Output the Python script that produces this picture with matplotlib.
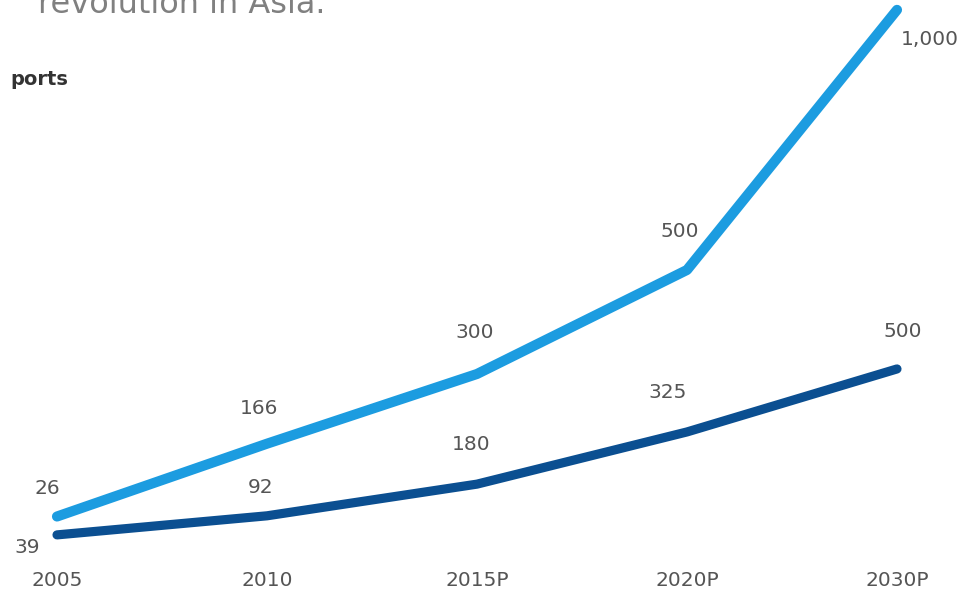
import matplotlib.pyplot as plt

# categories and series
years = ['2005', '2010', '2015P', '2020P', '2030P']
upper_vals = [26, 166, 300, 500, 1000]
lower_vals = [39, 92, 180, 325, 500]
upper_labels = ['26', '166', '300', '500', '1,000']
lower_labels = ['39', '92', '180', '325', '500']

light_blue = '#1c9ce0'
dark_blue = '#0b4f91'
label_grey = '#555555'

W, H = 967, 591
fig = plt.figure(figsize=(W / 100, H / 100), dpi=100)
fig.patch.set_facecolor('white')

# plot area runs from the tick labels up to the top edge
bottom_px = 23
ax = fig.add_axes([0, bottom_px / H, 1, 1 - bottom_px / H])
ax2 = ax.twinx()
ax2.set_position(ax.get_position())

x = list(range(len(years)))
ax.set_xlim(-57 / 210, 4 + (W - 897) / 210)
ax.set_ylim(-73, 1019)
ax2.set_ylim(-53, 1525)

ax.plot(x, upper_vals, color=light_blue, lw=7.3,
        solid_capstyle='round', solid_joinstyle='round', zorder=3)
ax2.plot(x, lower_vals, color=dark_blue, lw=6.6,
         solid_capstyle='round', solid_joinstyle='round', zorder=3)

# value labels, offsets in pixels from each point
up_off = [(-10, 28), (-8, 35), (-2, 41), (-7, 38), (33, -30)]
lo_off = [(-30, -13), (-6, 28), (-6, 40), (-19, 39), (6, 37)]
for xi, v, t, o in zip(x, upper_vals, upper_labels, up_off):
    ax.annotate(t, (xi, v), xytext=o, textcoords='offset pixels',
                ha='center', va='center', fontsize=14.5, color=label_grey)
for xi, v, t, o in zip(x, lower_vals, lower_labels, lo_off):
    ax2.annotate(t, (xi, v), xytext=o, textcoords='offset pixels',
                 ha='center', va='center', fontsize=14.5, color=label_grey)

ax.set_xticks(x)
ax.set_xticklabels(years, fontsize=14.5, color=label_grey)
ax.tick_params(axis='x', length=0, pad=2)
ax.set_yticks([])
ax2.set_yticks([])
for a in (ax, ax2):
    for s in a.spines.values():
        s.set_visible(False)
    a.patch.set_visible(False)

# heading pieces
fig.text(38 / W, 1 - 13 / H, 'revolution in Asia.', fontsize=23,
         color='#808080', ha='left', va='baseline')
fig.text(68 / W, 1 - 85 / H, 'ports', fontsize=14, fontweight='bold',
         color='#333333', ha='right', va='baseline')

fig.savefig('out.png', dpi=100)
